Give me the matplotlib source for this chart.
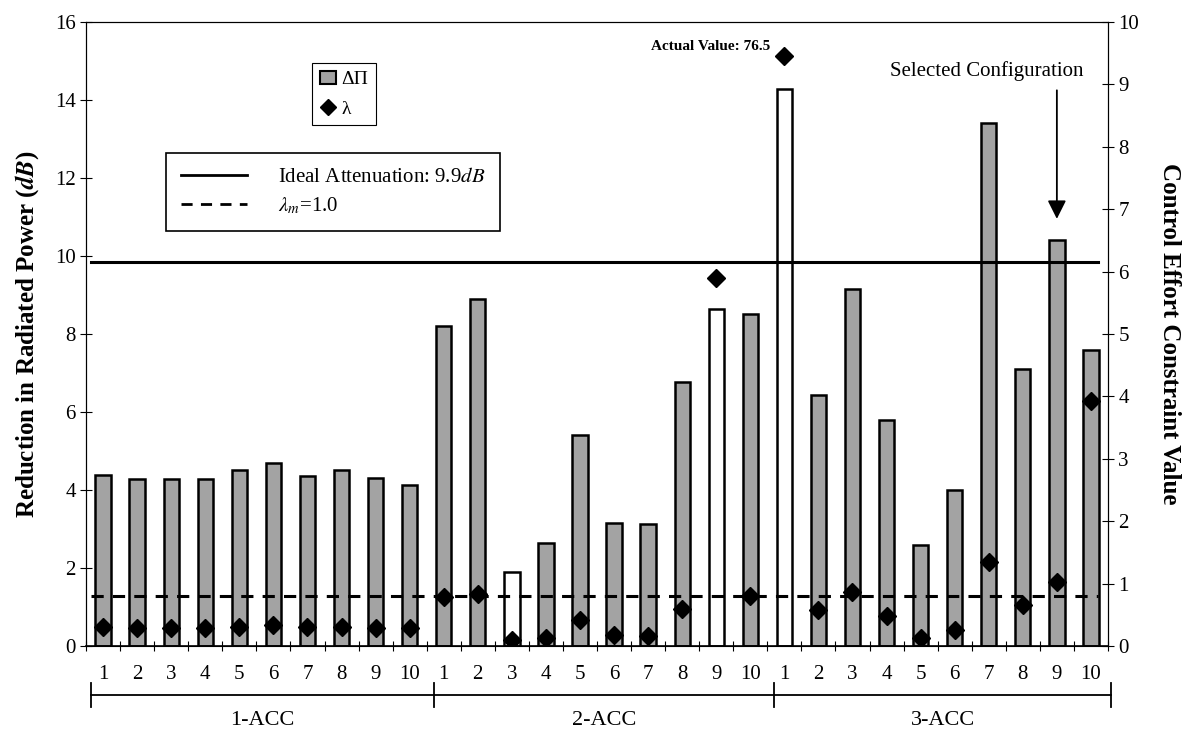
import numpy as np
import matplotlib.pyplot as plt
from matplotlib.patches import Patch
from matplotlib.lines import Line2D

plt.rcParams['font.family'] = ['Liberation Serif', 'DejaVu Serif']
plt.rcParams['mathtext.fontset'] = 'stix'

# dati
gruppi = ['1-ACC', '2-ACC', '3-ACC']
etichette = [str(i) for i in range(1, 11)] * 3
riduzione = [4.38, 4.28, 4.28, 4.27, 4.50, 4.68, 4.37, 4.50, 4.30, 4.12,
             8.20, 8.90, 1.90, 2.65, 5.42, 3.15, 3.12, 6.78, 8.65, 8.50,
             14.28, 6.43, 9.15, 5.80, 2.60, 4.00, 13.42, 7.10, 10.40, 7.60]
lam = [0.30, 0.28, 0.29, 0.29, 0.31, 0.33, 0.30, 0.31, 0.29, 0.29,
       0.78, 0.84, 0.10, 0.12, 0.42, 0.18, 0.16, 0.60, 5.90, 0.80,
       9.45, 0.57, 0.86, 0.48, 0.13, 0.26, 1.35, 0.65, 1.02, 3.92]
vuote = [12, 18, 20]   # barre bianche (lambda fuori vincolo)
ideale = 9.85
lam_m = 1.28  # posizione della linea tratteggiata sull'asse sinistro

x = np.arange(len(riduzione))
colori = ['white' if i in vuote else '#a3a3a3' for i in x]

fig = plt.figure(figsize=(11.92, 7.38), dpi=100)
ax = fig.add_axes([0.0722, 0.1247, 0.8573, 0.8455])
ax.bar(x, riduzione, width=0.45, color=colori, edgecolor='black', linewidth=1.8, zorder=2)
ax.axhline(ideale, color='black', lw=2.2, xmin=0.005, xmax=0.99, zorder=3)
ax.axhline(lam_m, color='black', lw=2.2, ls=(0, (4, 3)), xmin=0.005, xmax=0.99, zorder=3)
ax.set_xlim(-0.5, 29.5)
ax.set_ylim(0, 16)
ax.set_yticks(np.arange(0, 17, 2))
ax.set_xticks(x)
ax.set_xticklabels(etichette, fontsize=15)
ax.set_xticks(np.arange(-0.5, 30, 1), minor=True)
ax.tick_params(axis='x', which='major', length=0, pad=14)
ax.tick_params(axis='x', which='minor', length=7, direction='inout', width=0.8)
ax.tick_params(axis='y', labelsize=15, direction='inout', length=8, width=0.8)
for s in ['left', 'right', 'top']:
    ax.spines[s].set_linewidth(0.8)
ax.spines['bottom'].set_linewidth(1.2)
ax.set_ylabel(r'Reduction in Radiated Power ($\mathbfit{dB}$)', fontsize=18,
              fontweight='bold', labelpad=10)

ax2 = ax.twinx()
ax2.plot(x, lam, 'D', color='black', markersize=9.5, zorder=4)
ax2.set_ylim(0, 10)
ax2.set_yticks(np.arange(0, 11, 1))
ax2.tick_params(axis='y', labelsize=15, direction='inout', length=8, width=0.8)
ax2.set_ylabel('Control Effort Constraint Value', fontsize=18, fontweight='bold',
               rotation=270, labelpad=30)

ax2.text(20 - 0.42, 9.6, 'Actual Value: 76.5', fontsize=11, fontweight='bold',
         ha='right', va='center')
ax2.text(25.95, 9.22, 'Selected Configuration', fontsize=15, ha='center', va='center')
ax2.annotate('', xy=(28, 6.8), xytext=(28, 8.95),
             arrowprops=dict(arrowstyle='-|>', color='black', lw=1.3, mutation_scale=28))

# parentesi dei gruppi sotto l'asse
tr = ax.get_xaxis_transform()
confini = [-0.35, 9.7, 19.7, 29.6]
ax.plot([confini[0], confini[-1]], [-0.079, -0.079], color='black', lw=1.3,
        transform=tr, clip_on=False)
for c in confini:
    ax.plot([c, c], [-0.06, -0.098], color='black', lw=1.3, transform=tr, clip_on=False)
for i, g in enumerate(gruppi):
    ax.text((confini[i] + confini[i + 1]) / 2, -0.12, g, fontsize=16,
            ha='center', va='center', transform=tr)

# legende
leg1 = ax.legend(handles=[Patch(facecolor='#a3a3a3', edgecolor='black', lw=1.5),
                          Line2D([], [], marker='D', color='black', ls='none', markersize=8)],
                 labels=['ΔΠ', 'λ'], loc='upper left',
                 bbox_to_anchor=(0.212, 0.95), fontsize=14, fancybox=False,
                 edgecolor='black', handlelength=0.8, handletextpad=0.3,
                 borderpad=0.4, framealpha=1, labelspacing=0.6)
leg1.get_frame().set_linewidth(0.8)
ax.add_artist(leg1)
leg2 = ax.legend(handles=[Line2D([], [], color='black', lw=2),
                          Line2D([], [], color='black', lw=2, ls=(0, (4, 3)))],
                 labels=[r'Ideal Attenuation: 9.9$\mathit{dB}$', r'$\lambda_m$=1.0'],
                 loc='upper left', bbox_to_anchor=(0.068, 0.807), fontsize=15,
                 fancybox=False, edgecolor='black', handlelength=3.2,
                 handletextpad=1.5, borderpad=0.7, framealpha=1, labelspacing=0.4)
leg2.get_frame().set_linewidth(1.2)

fig.savefig('out.png', dpi=100)
